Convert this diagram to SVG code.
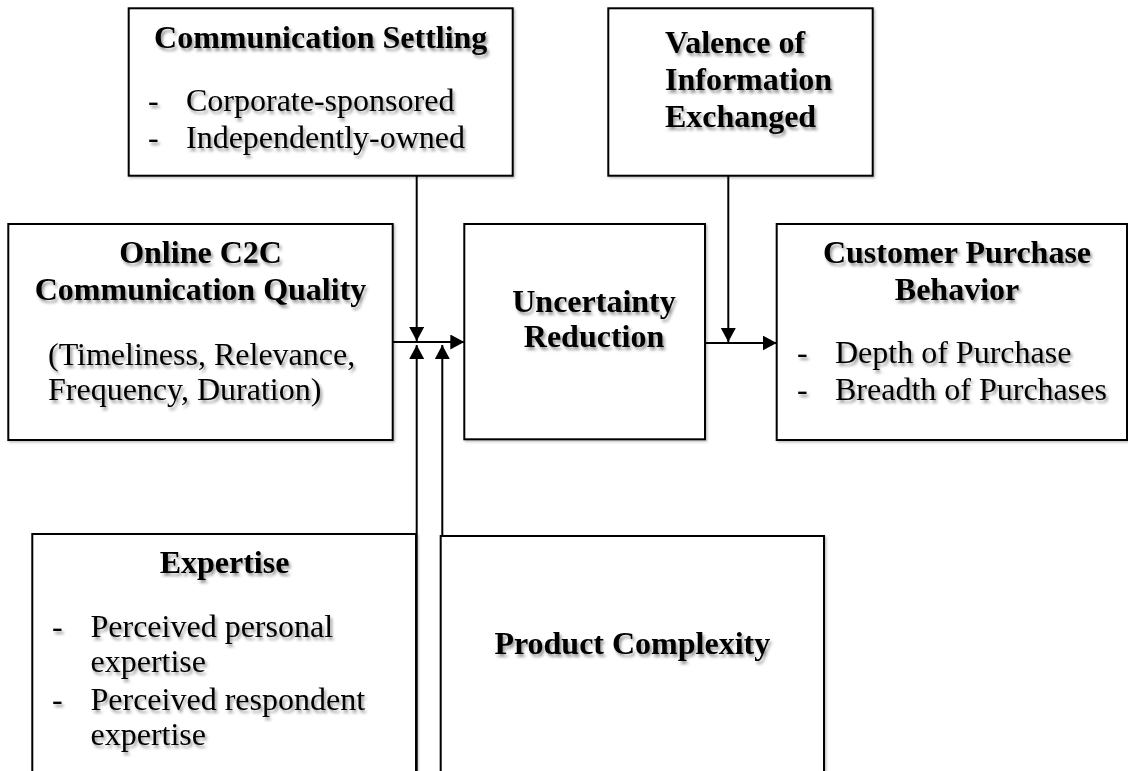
<svg xmlns="http://www.w3.org/2000/svg" width="1128" height="771" viewBox="0 0 1128 771">
  <style>
    .box { fill: #ffffff; stroke: #000000; stroke-width: 2; }
    .t { font-family: "Liberation Serif", "Times New Roman", serif; font-size: 32px; fill: #000000; }
    .b { font-weight: bold; }
    .mid { text-anchor: middle; }
    .wire { stroke: #000000; stroke-width: 2; fill: none; }
    .shadow { filter: url(#soft); }
  </style>
  <defs>
    <filter id="soft" x="-10%" y="-30%" width="120%" height="160%">
      <feDropShadow dx="2" dy="3" stdDeviation="1.8" flood-color="#000000" flood-opacity="0.4"/>
    </filter>
    <filter id="boxShade" x="-5%" y="-5%" width="110%" height="110%">
      <feDropShadow dx="1.5" dy="1.5" stdDeviation="1" flood-color="#000000" flood-opacity="0.25"/>
    </filter>
    <marker id="head" markerUnits="userSpaceOnUse" markerWidth="15" markerHeight="16" refX="14" refY="7.5" orient="auto">
      <path d="M0,0 L14,7.5 L0,15 z" fill="#000000"/>
    </marker>
  </defs>
  <rect width="1128" height="771" fill="#ffffff"/>

  <!-- Communication Settling -->
  <g id="node-settling">
    <rect class="box" x="128.7" y="8.3" width="384" height="167.4" filter="url(#boxShade)"/>
    <g class="shadow">
      <text class="t b mid" x="320.7" y="48.3">Communication Settling</text>
      <text class="t" x="148" y="111">-</text>
      <text class="t" x="186" y="111">Corporate-sponsored</text>
      <text class="t" x="148" y="147.7">-</text>
      <text class="t" x="186" y="147.7">Independently-owned</text>
    </g>
  </g>

  <!-- Valence of Information Exchanged -->
  <g id="node-valence">
    <rect class="box" x="608.3" y="8.3" width="264.4" height="167.4" filter="url(#boxShade)"/>
    <g class="shadow">
      <text class="t b" x="665" y="53.3">Valence of</text>
      <text class="t b" x="665" y="90">Information</text>
      <text class="t b" x="665" y="126.7">Exchanged</text>
    </g>
  </g>

  <!-- Online C2C Communication Quality -->
  <g id="node-quality">
    <rect class="box" x="8.3" y="224" width="384.4" height="216" filter="url(#boxShade)"/>
    <g class="shadow">
      <text class="t b mid" x="200.5" y="263.3">Online C2C</text>
      <text class="t b mid" x="200.5" y="300">Communication Quality</text>
      <text class="t" x="48" y="365">(Timeliness, Relevance,</text>
      <text class="t" x="48" y="400">Frequency, Duration)</text>
    </g>
  </g>

  <!-- Uncertainty Reduction -->
  <g id="node-uncertainty">
    <rect class="box" x="464.3" y="224" width="240.7" height="215.3" filter="url(#boxShade)"/>
    <g class="shadow">
      <text class="t b mid" x="594" y="311.7">Uncertainty</text>
      <text class="t b mid" x="594" y="346.7">Reduction</text>
    </g>
  </g>

  <!-- Customer Purchase Behavior -->
  <g id="node-purchase">
    <rect class="box" x="776.7" y="224" width="350.3" height="216" filter="url(#boxShade)"/>
    <g class="shadow">
      <text class="t b mid" x="957" y="263.3">Customer Purchase</text>
      <text class="t b mid" x="957" y="300">Behavior</text>
      <text class="t" x="797" y="363.3">-</text>
      <text class="t" x="835" y="363.3">Depth of Purchase</text>
      <text class="t" x="797" y="400">-</text>
      <text class="t" x="835" y="400">Breadth of Purchases</text>
    </g>
  </g>

  <!-- Expertise -->
  <g id="node-expertise">
    <rect class="box" x="32.3" y="534" width="383.7" height="260" filter="url(#boxShade)"/>
    <g class="shadow">
      <text class="t b mid" x="224.5" y="573.3">Expertise</text>
      <text class="t" x="52" y="636.7">-</text>
      <text class="t" x="90.5" y="636.7">Perceived personal</text>
      <text class="t" x="90.5" y="671.7">expertise</text>
      <text class="t" x="52" y="710">-</text>
      <text class="t" x="90.5" y="710">Perceived respondent</text>
      <text class="t" x="90.5" y="745">expertise</text>
    </g>
  </g>

  <!-- Product Complexity -->
  <g id="node-complexity">
    <rect class="box" x="440.7" y="536" width="383.3" height="260" filter="url(#boxShade)"/>
    <g class="shadow">
      <text class="t b mid" x="632.3" y="654">Product Complexity</text>
    </g>
  </g>

  <!-- Connectors -->
  <g id="connectors">
    <line class="wire" x1="392.7" y1="342" x2="464.3" y2="342" marker-end="url(#head)"/>
    <line class="wire" x1="416.7" y1="175.7" x2="416.7" y2="341" marker-end="url(#head)"/>
    <line class="wire" x1="416.7" y1="771" x2="416.7" y2="345" marker-end="url(#head)"/>
    <line class="wire" x1="442.3" y1="536" x2="442.3" y2="345" marker-end="url(#head)"/>
    <line class="wire" x1="705" y1="343" x2="776.7" y2="343" marker-end="url(#head)"/>
    <line class="wire" x1="728.3" y1="175.7" x2="728.3" y2="342" marker-end="url(#head)"/>
  </g>
</svg>
